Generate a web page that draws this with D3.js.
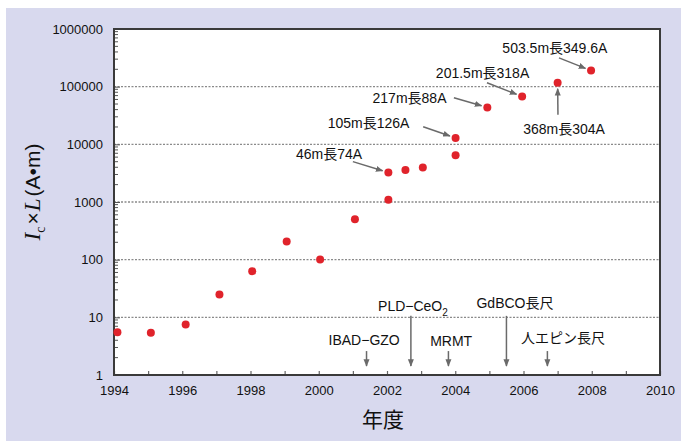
<!DOCTYPE html>
<html>
<head>
<meta charset="utf-8">
<script src="https://cdn.jsdelivr.net/npm/d3@7"></script>
<style>
  body { margin: 0; background: #fff; }
  text { font-family: "Liberation Sans", Arial, "Noto Sans CJK JP", sans-serif; }
</style>
</head>
<body>
<div id="chart"></div>
<script>
// year of each record and its Ic x L value (A·m)
const years = [1994.1, 1995.08, 1996.1, 1997.09, 1998.05, 1999.06, 2000.04, 2001.06,
  2002.04, 2002.04, 2002.54, 2003.05, 2004.01, 2004.01, 2004.94, 2005.96, 2007.0, 2007.98];
const values = [5.5, 5.4, 7.5, 25, 63, 207, 101, 500,
  1090, 3240, 3600, 3950, 6450, 12900, 43600, 67600, 116600, 190000];

const yTicks = [1, 10, 100, 1000, 10000, 100000, 1000000];
const xTicks = d3.range(1994, 2011, 2);
const gridValues = [10, 100, 1000, 10000, 100000];

// labelled records: index into the arrays above, label text,
// label centre and arrow tail (year, value)
const recIndex = [9, 13, 14, 15, 16, 17];
const recLabels = ['46m長74A', '105m長126A', '217m長88A', '201.5m長318A', '368m長304A', '503.5m長349.6A'];
const recLabelYear = [2000.3, 2001.46, 2002.66, 2004.8, 2007.19, 2006.92];
const recLabelValue = [6640, 23700, 64200, 173700, 18700, 469600];
const recTailYear = [2001.0, 2003.06, 2003.96, 2004.93, 2007.01, 2007.04];
const recTailValue = [5010, 20200, 64200, 116600, 32600, 315400];

// technology milestones along the bottom
const msLabels = ['IBAD−GZO', 'PLD−CeO', 'MRMT', 'GdBCO長尺', '人エピン長尺'];
const msSub = ['', '2', '', '', ''];
const msYear = [2001.4, 2002.7, 2003.8, 2005.5, 2006.7];
const msLabelYear = [2001.33, 2002.76, 2003.88, 2005.75, 2007.16];
const msLabelValue = [4.0, 15.6, 3.9, 17.6, 4.35];
const msTop = [2.6, 10.6, 2.6, 10.6, 2.6];

const width = 681, height = 441;
const margin = {top: 29, right: 21, bottom: 66, left: 114};
const w = width - margin.left - margin.right;
const h = height - margin.top - margin.bottom;

const svg = d3.select('#chart').append('svg')
  .attr('width', width)
  .attr('height', height);

// lavender panel
svg.append('rect')
  .attr('x', 6).attr('y', 8)
  .attr('width', width - 6).attr('height', height - 8)
  .attr('fill', '#d8d9ee');

const g = svg.append('g')
  .attr('transform', 'translate(' + margin.left + ',' + margin.top + ')');

const x = d3.scaleLinear().domain([1994, 2010]).range([0, w]);
const y = d3.scaleLog().domain([1, 1000000]).range([h, 0]);

g.append('rect')
  .attr('width', w).attr('height', h)
  .attr('fill', '#fff');

// dotted grid
g.selectAll('.grid')
  .data(gridValues)
  .enter().append('line')
  .attr('class', 'grid')
  .attr('x1', 0).attr('x2', w)
  .attr('y1', d => y(d)).attr('y2', d => y(d))
  .attr('stroke', '#8a8a8a')
  .attr('stroke-width', 1.3)
  .attr('stroke-dasharray', '2,1.5');

// y axis, ticks inside
const minor = [];
for (let e = 0; e < 6; e++) {
  for (let k = 2; k < 10; k++) minor.push(k * Math.pow(10, e));
}
g.selectAll('.ytick-minor')
  .data(minor)
  .enter().append('line')
  .attr('x1', 0).attr('x2', 4)
  .attr('y1', d => y(d)).attr('y2', d => y(d))
  .attr('stroke', '#555').attr('stroke-width', 1);

g.append('g')
  .call(d3.axisLeft(y).tickValues(yTicks).tickFormat(d3.format('d')).tickSize(-6).tickPadding(11))
  .call(a => a.select('.domain').remove())
  .call(a => a.selectAll('line').attr('stroke', '#555'))
  .call(a => a.selectAll('text').attr('font-size', 13).attr('fill', '#111')
    .attr('font-family', '"Liberation Sans", Arial, sans-serif'));

// x axis, ticks inside
g.append('g')
  .attr('transform', 'translate(0,' + h + ')')
  .call(d3.axisBottom(x).ticks(16).tickFormat('').tickSize(-4))
  .call(a => a.select('.domain').remove())
  .call(a => a.selectAll('line').attr('stroke', '#666').attr('stroke-width', 1.2));

g.append('g')
  .attr('transform', 'translate(0,' + h + ')')
  .call(d3.axisBottom(x).tickValues(xTicks).tickFormat(d3.format('d')).tickSize(0).tickPadding(11))
  .call(a => a.select('.domain').remove())
  .call(a => a.selectAll('text').attr('font-size', 13).attr('fill', '#111')
    .attr('font-family', '"Liberation Sans", Arial, sans-serif'));

// frame
g.append('rect')
  .attr('width', w).attr('height', h)
  .attr('fill', 'none')
  .attr('stroke', '#3a3a3a')
  .attr('stroke-width', 2);

// arrow marker
const defs = svg.append('defs');
defs.append('marker')
  .attr('id', 'arr')
  .attr('viewBox', '0 0 10 10')
  .attr('refX', 9).attr('refY', 5)
  .attr('markerWidth', 5).attr('markerHeight', 5)
  .attr('orient', 'auto')
  .append('path')
  .attr('d', 'M0,1 L10,5 L0,9 z')
  .attr('fill', '#6a6a6a');

// points
g.selectAll('.dot')
  .data(years)
  .enter().append('circle')
  .attr('class', 'dot')
  .attr('cx', d => x(d))
  .attr('cy', (d, i) => y(values[i]))
  .attr('r', 4)
  .attr('fill', '#e0232b');

// record annotations
recIndex.forEach((p, i) => {
  const px = x(years[p]), py = y(values[p]);
  const tx = x(recTailYear[i]), ty = y(recTailValue[i]);
  const dx = px - tx, dy = py - ty;
  const len = Math.sqrt(dx * dx + dy * dy);
  g.append('line')
    .attr('x1', tx).attr('y1', ty)
    .attr('x2', px - dx / len * 6).attr('y2', py - dy / len * 6)
    .attr('stroke', '#6a6a6a').attr('stroke-width', 1.5)
    .attr('marker-end', 'url(#arr)');
  g.append('text')
    .attr('x', x(recLabelYear[i]))
    .attr('y', y(recLabelValue[i]))
    .attr('dy', '0.35em')
    .attr('text-anchor', 'middle')
    .attr('font-size', 14)
    .attr('fill', '#111')
    .text(recLabels[i]);
});

// milestone annotations
msLabels.forEach((lab, i) => {
  const ax = x(msYear[i]);
  g.append('line')
    .attr('x1', ax).attr('x2', ax)
    .attr('y1', y(msTop[i])).attr('y2', y(1.43))
    .attr('stroke', '#6a6a6a').attr('stroke-width', 1.5)
    .attr('marker-end', 'url(#arr)');
  const t = g.append('text')
    .attr('x', x(msLabelYear[i]))
    .attr('y', y(msLabelValue[i]))
    .attr('dy', '0.35em')
    .attr('text-anchor', 'middle')
    .attr('font-size', 14)
    .attr('fill', '#111');
  t.append('tspan').text(lab);
  if (msSub[i]) {
    t.append('tspan').attr('font-size', 10).attr('dy', '0.45em').text(msSub[i]);
  }
});

// axis titles
svg.append('text')
  .attr('x', 383).attr('y', 420)
  .attr('dy', '0.35em')
  .attr('text-anchor', 'middle')
  .attr('font-size', 21)
  .attr('font-family', '"Noto Sans CJK JP", sans-serif')
  .attr('fill', '#111')
  .text('年度');

const yl = svg.append('text')
  .attr('transform', 'translate(40,192) rotate(-90)')
  .attr('text-anchor', 'middle')
  .attr('font-size', 21)
  .attr('fill', '#111');
yl.append('tspan').attr('font-family', '"Liberation Serif", serif').attr('font-style', 'italic').attr('font-size', 23).text('I');
yl.append('tspan').attr('font-family', '"Liberation Serif", serif').attr('font-size', 14).attr('dy', 5).text('c');
yl.append('tspan').attr('dy', -5).attr('dx', 2).text('×');
yl.append('tspan').attr('font-family', '"Liberation Serif", serif').attr('font-style', 'italic').attr('font-size', 23).attr('dx', 1).text('L');
yl.append('tspan').attr('dx', 2).text('(A•m)');
</script>
</body>
</html>
